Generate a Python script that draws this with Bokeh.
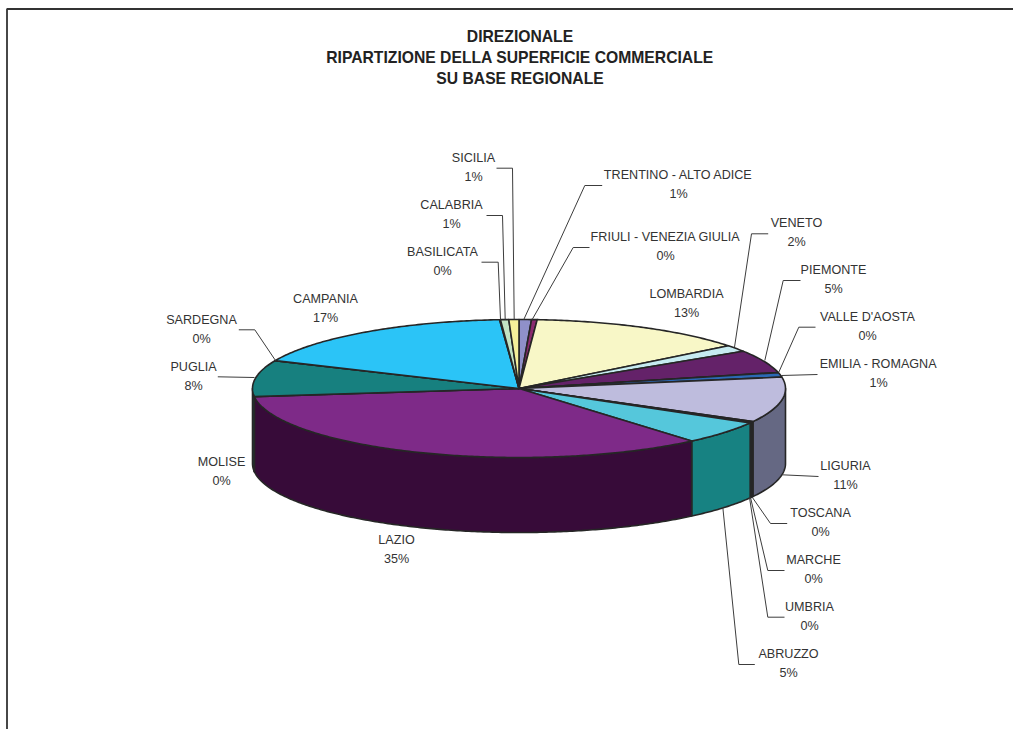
import numpy as np
from bokeh.plotting import figure
from bokeh.models import ColumnDataSource
from bokeh.core.properties import value
from bokeh.embed import file_html
from bokeh.resources import INLINE

title_lines = ["DIREZIONALE", "RIPARTIZIONE DELLA SUPERFICIE COMMERCIALE", "SU BASE REGIONALE"]

# clockwise from twelve o'clock
regions = ["TRENTINO - ALTO ADICE", "FRIULI - VENEZIA GIULIA", "LOMBARDIA", "VENETO", "PIEMONTE",
           "VALLE D'AOSTA", "EMILIA - ROMAGNA", "LIGURIA", "TOSCANA", "MARCHE", "UMBRIA", "ABRUZZO",
           "LAZIO", "MOLISE", "PUGLIA", "SARDEGNA", "CAMPANIA", "BASILICATA", "CALABRIA", "SICILIA"]
shares = [0.75, 0.34, 13.30, 1.52, 5.35, 0.06, 1.03, 10.60, 0.11, 0.11, 0.12, 5.49,
          34.34, 0.04, 8.41, 0.04, 17.23, 0.05, 0.50, 0.61]
percent_labels = ["1%", "0%", "13%", "2%", "5%", "0%", "1%", "11%", "0%", "0%", "0%", "5%",
                  "35%", "0%", "8%", "0%", "17%", "0%", "1%", "1%"]

top_colors = ["#8F90C9", "#8A2A6E", "#F8F7C7", "#C6EBF1", "#642269", "#1E1E6E", "#2C69B5", "#BEBCDD",
              "#1A1A60", "#1A1A60", "#101050", "#55C7DB", "#7E2A88", "#2A2A70", "#17807F", "#2A2A70",
              "#2BC4F7", "#2A2A70", "#C2E3C4", "#F5F09A"]
side_colors = ["#5A5A80", "#561A44", "#9A9A7C", "#7C9296", "#3E1541", "#121244", "#1B4170", "#656883",
               "#0C0C40", "#101048", "#0A0A38", "#178282", "#370B39", "#1A1A46", "#0E5050", "#1A1A46",
               "#1A7A9A", "#1A1A46", "#78908A", "#989560"]

# ---- layout (reference pixels) ----
CX, CY, RX, RY, DEPTH = 518.5, 388.0, 266.5, 69.0, 75.0
label_x = [678, 665, 686, 796, 833, 867, 878, 845, 820, 813, 809, 788, 396, 221, 193, 201, 325, 442, 451, 473]
label_y = [174, 236, 293, 222, 269, 316, 363, 465, 512, 559, 606, 653, 539, 461, 366, 319, 298, 251, 204, 157]
LINE_GAP = 19
leaders = {
    "SICILIA": ([496, 512, 513.7], [167.7, 167.7, 319]),
    "CALABRIA": ([486, 502, 504.7], [215, 215, 319]),
    "BASILICATA": ([481, 497.7, 500], [261.7, 261.7, 319]),
    "TRENTINO - ALTO ADICE": ([601.7, 584.3, 523.3], [185, 185, 319]),
    "FRIULI - VENEZIA GIULIA": ([589, 572.7, 531.7], [247, 247, 319]),
    "VENETO": ([767.7, 751, 734], [233.3, 233.3, 346.7]),
    "PIEMONTE": ([800, 782.7, 764.3], [280, 280, 360]),
    "VALLE D'AOSTA": ([815, 798.3, 778.3], [326.7, 326.7, 371.7]),
    "EMILIA - ROMAGNA": ([817, 780.7], [374, 375]),
    "LIGURIA": ([818, 781.7], [476, 474.3]),
    "TOSCANA": ([786.7, 770, 751.7], [523, 523, 496.7]),
    "MARCHE": ([784, 767.3, 750], [570, 570, 497]),
    "UMBRIA": ([784, 767.3, 749], [616.7, 616.7, 497]),
    "ABRUZZO": ([754.3, 738.3, 722.3], [664, 664, 506.7]),
    "SARDEGNA": ([238.3, 254.3, 275], [329.3, 329.3, 360]),
    "PUGLIA": ([217.3, 254], [376.3, 377]),
}

FONT = "Liberation Sans"
TEXT_COLOR = "#333333"
EDGE = "#262626"

W, H = 1013, 729
p = figure(width=W, height=H, x_range=(0, W), y_range=(H, 0), min_border=0,
           toolbar_location=None, output_backend="svg", outline_line_color=None,
           background_fill_color="white", margin=(0, -8, -8, 0))
p.axis.visible = False
p.xgrid.visible = False
p.ygrid.visible = False

# slice boundaries derived from the shares
fr = np.array(shares, dtype=float)
ends = np.cumsum(fr) / fr.sum() * 2 * np.pi
starts = np.concatenate([[0.0], ends[:-1]])


def rim(t, dz=0.0):
    return CX + RX * np.sin(t), CY - RY * np.cos(t) + dz


# visible outer walls: only the front half
sx, sy, sc = [], [], []
for a, b, col in zip(starts, ends, side_colors):
    lo, hi = max(a, np.pi / 2), min(b, 3 * np.pi / 2)
    if hi <= lo:
        continue
    t = np.linspace(lo, hi, max(2, int((hi - lo) * 90)))
    x1, y1 = rim(t)
    x2, y2 = rim(t[::-1], DEPTH)
    sx.append(np.concatenate([x1, x2]).tolist())
    sy.append(np.concatenate([y1, y2]).tolist())
    sc.append(col)
p.patches(xs=sx, ys=sy, fill_color=sc, line_color=EDGE, line_width=1.6, line_join="round")

# top faces
tx, ty = [], []
for a, b in zip(starts, ends):
    t = np.linspace(a, b, max(2, int((b - a) * 90)))
    x1, y1 = rim(t)
    tx.append([CX] + x1.tolist())
    ty.append([CY] + y1.tolist())
p.patches(xs=tx, ys=ty, fill_color=top_colors, line_color=EDGE, line_width=1.6, line_join="round")

# leader lines
p.multi_line(xs=[v[0] for v in leaders.values()], ys=[v[1] for v in leaders.values()],
             line_color="#3c3c3c", line_width=1)

# labels
src = ColumnDataSource(dict(x=label_x, y=label_y, name=regions,
                            pct_y=[v + LINE_GAP for v in label_y], pct=percent_labels))
p.text("x", "y", text="name", source=src, text_font=value(FONT), text_font_size="12.6px",
       text_color=TEXT_COLOR, text_align="center", text_baseline="middle")
p.text("x", "pct_y", text="pct", source=src, text_font=value(FONT), text_font_size="12.6px",
       text_color=TEXT_COLOR, text_align="center", text_baseline="middle")

# title
p.text(x=[519.5] * 3, y=[36, 57, 78], text=title_lines, text_font=value(FONT), text_font_size="15.7px",
       text_font_style="bold", text_color="#222222", text_align="center", text_baseline="middle")

# chart-area frame: top and left edges only
p.multi_line(xs=[[6.5, 6.5, W]], ys=[[H, 8.5, 8.5]], line_color="#333333", line_width=1.8)

open("out.html", "w").write(file_html(p, INLINE))
